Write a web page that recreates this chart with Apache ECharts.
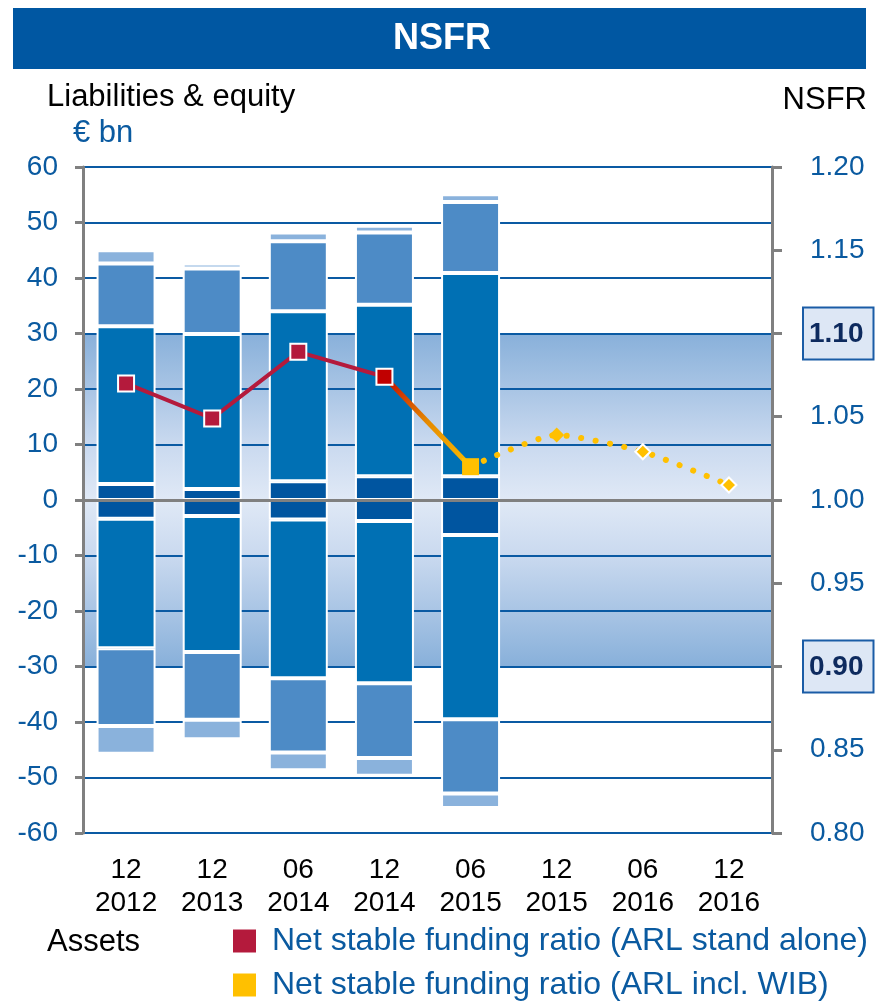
<!DOCTYPE html>
<html>
<head>
<meta charset="utf-8">
<script src="https://cdn.jsdelivr.net/npm/echarts@6/dist/echarts.min.js"></script>
<style>
  html, body { margin: 0; padding: 0; background: #fff; }
  #nsfr_chart { width: 879px; height: 1003px; }
</style>
</head>
<body>
<div id="nsfr_chart"></div>
<script>
// reporting dates
var periods = ['12\n2012', '12\n2013', '06\n2014', '12\n2014', '06\n2015', '12\n2015', '06\n2016', '12\n2016'];

// liabilities & equity (€ bn), bottom to top
var liabDark  = [2.9, 2.0, 3.4, 4.3, 4.3, null, null, null];
var liabMid   = [28.4, 27.9, 30.6, 30.9, 36.6, null, null, null];
var liabLight = [11.3, 11.8, 12.6, 13.0, 12.8, null, null, null];
var liabPale  = [2.4, 0.9, 1.6, 1.2, 1.4, null, null, null];

// assets (€ bn), top to bottom
var assetDark  = [-3.4, -2.9, -3.5, -3.8, -6.3, null, null, null];
var assetMid   = [-23.3, -24.5, -28.6, -29.2, -33.2, null, null, null];
var assetLight = [-14.0, -12.2, -13.4, -13.5, -13.4, null, null, null];
var assetPale  = [-5.0, -3.5, -3.2, -3.2, -2.6, null, null, null];

// net stable funding ratio
var nsfrStandAlone = [1.070, 1.049, 1.089, 1.074, null, null, null, null];
var nsfrBridge     = [null, null, null, 1.074, 1.020, null, null, null];
var nsfrInclWib    = [null, null, null, null, 1.020, null, null, null];
var nsfrForecast   = [null, null, null, null, 1.020, 1.039, 1.029, 1.009];

var FONT = '"Liberation Sans", Arial, sans-serif';
var BLUE_TXT = '#0a5aa0';

var nsfrChart = echarts.init(document.getElementById('nsfr_chart'));

function barSeries(name, data, color) {
    return {
        name: name,
        type: 'bar',
        stack: 'balance',
        barWidth: 59,
        z: 2,
        data: data,
        itemStyle: {
            color: color,
            borderColor: '#fff',
            borderWidth: 2
        },
        emphasis: { disabled: true }
    };
}

var option = {
    animation: false,
    textStyle: { fontFamily: FONT },
    grid: { left: 83, right: 107, top: 167, bottom: 170 },
    legend: {
        orient: 'vertical',
        left: 233,
        top: 925,
        padding: 0,
        itemWidth: 23,
        itemHeight: 23,
        itemGap: 12,
        icon: 'rect',
        itemStyle: { borderWidth: 0 },
        textStyle: { color: BLUE_TXT, fontSize: 32, fontFamily: FONT, padding: [0, 0, 0, 11] },
        data: ['Net stable funding ratio (ARL stand alone)', 'Net stable funding ratio (ARL incl. WIB)']
    },
    graphic: [
        { type: 'rect', left: 13, top: 8, shape: { width: 853, height: 61 }, style: { fill: '#0057a2' } },
        { type: 'text', x: 442, y: 39, style: { text: 'NSFR', fill: '#fff', font: 'bold 36px ' + FONT, align: 'center', verticalAlign: 'middle' } },
        { type: 'text', x: 47, y: 97, style: { text: 'Liabilities & equity', fill: '#000', font: '31px ' + FONT, verticalAlign: 'middle' } },
        { type: 'text', x: 73, y: 133, style: { text: '€ bn', fill: BLUE_TXT, font: '31px ' + FONT, verticalAlign: 'middle' } },
        { type: 'text', x: 867, y: 100, style: { text: 'NSFR', fill: '#000', font: '31px ' + FONT, align: 'right', verticalAlign: 'middle' } },
        { type: 'text', x: 47, y: 942, style: { text: 'Assets', fill: '#000', font: '31px ' + FONT, verticalAlign: 'middle' } }
    ],
    xAxis: [
        {
            type: 'category',
            data: periods,
            z: 4,
            axisLine: { onZero: true, lineStyle: { color: '#808080', width: 3 } },
            axisTick: { show: false },
            axisLabel: { show: false }
        },
        {
            type: 'category',
            data: periods,
            position: 'bottom',
            axisLine: { show: false, onZero: false },
            axisTick: { show: false },
            axisLabel: { color: '#000', fontSize: 28, lineHeight: 33, margin: 21, fontFamily: FONT }
        }
    ],
    yAxis: [
        {
            type: 'value',
            min: -60,
            max: 60,
            interval: 10,
            z: 1.5,
            axisLine: { show: true, lineStyle: { color: '#808080', width: 3 } },
            axisTick: { show: true, length: 8, lineStyle: { color: '#808080', width: 3 } },
            axisLabel: { color: BLUE_TXT, fontSize: 28, margin: 25, fontFamily: FONT },
            splitLine: { show: true, lineStyle: { color: '#0a5aa3', width: 2 } }
        },
        {
            type: 'value',
            min: 0.80,
            max: 1.20,
            interval: 0.05,
            position: 'right',
            z: 1.5,
            axisLine: { show: true, lineStyle: { color: '#808080', width: 3 } },
            axisTick: { show: true, length: 10, lineStyle: { color: '#808080', width: 3 } },
            splitLine: { show: false },
            axisLabel: {
                margin: 32,
                fontFamily: FONT,
                formatter: function (v) {
                    var s = v.toFixed(2);
                    return (s === '1.10' || s === '0.90') ? '{box|' + s + '}' : '{n|' + s + '}';
                },
                rich: {
                    n: { color: BLUE_TXT, fontSize: 28, fontFamily: FONT, padding: [0, 0, 0, 6] },
                    box: {
                        color: '#0d2a5e', fontSize: 28, fontWeight: 'bold', fontFamily: FONT,
                        backgroundColor: '#dde7f5', borderColor: '#1a5ca6', borderWidth: 2,
                        padding: [12, 9, 10, 5]
                    }
                }
            }
        }
    ],
    series: [
        {
            name: 'band',
            type: 'line',
            data: [],
            z: 1,
            silent: true,
            markArea: {
                silent: true,
                itemStyle: {
                    color: new echarts.graphic.LinearGradient(0, 0, 0, 1, [
                        { offset: 0, color: '#88b0da' },
                        { offset: 0.33, color: '#c9d9ef' },
                        { offset: 0.5, color: '#e0e9f6' },
                        { offset: 0.67, color: '#c9d9ef' },
                        { offset: 1, color: '#88b0da' }
                    ])
                },
                data: [[{ yAxis: 30 }, { yAxis: -30 }]]
            }
        },
        barSeries('Liabilities 1', liabDark, '#0055a0'),
        barSeries('Liabilities 2', liabMid, '#0070b4'),
        barSeries('Liabilities 3', liabLight, '#4d8bc6'),
        barSeries('Liabilities 4', liabPale, '#8ab2dc'),
        barSeries('Assets 1', assetDark, '#0055a0'),
        barSeries('Assets 2', assetMid, '#0070b4'),
        barSeries('Assets 3', assetLight, '#4d8bc6'),
        barSeries('Assets 4', assetPale, '#8ab2dc'),
        {
            name: 'bridge',
            type: 'line',
            yAxisIndex: 1,
            z: 5,
            data: nsfrBridge,
            showSymbol: false,
            lineStyle: {
                width: 5,
                color: new echarts.graphic.LinearGradient(0, 0, 1, 1, [
                    { offset: 0, color: '#c00000' },
                    { offset: 0.5, color: '#e58a00' },
                    { offset: 1, color: '#ffc000' }
                ])
            }
        },
        {
            name: 'Net stable funding ratio (ARL incl. WIB) forecast',
            type: 'line',
            yAxisIndex: 1,
            z: 5,
            smooth: 0.2,
            data: nsfrForecast.map(function (v, i) {
                if (v === null) return null;
                if (i === 4) return { value: v, symbolSize: 0 };
                if (i === 5) return { value: v, itemStyle: { borderWidth: 0 } };
                return v;
            }),
            symbol: 'diamond',
            symbolSize: 15,
            itemStyle: { color: '#ffc000', borderColor: '#fff', borderWidth: 2 },
            lineStyle: { color: '#ffc000', width: 6, type: [0.1, 14.5], cap: 'round' }
        },
        {
            name: 'Net stable funding ratio (ARL stand alone)',
            type: 'line',
            yAxisIndex: 1,
            z: 6,
            data: nsfrStandAlone.map(function (v, i) {
                if (i === 3) return { value: v, itemStyle: { color: '#c00000' } };
                return v;
            }),
            symbol: 'rect',
            symbolSize: 16,
            itemStyle: { color: '#b41a3c', borderColor: '#fff', borderWidth: 2 },
            lineStyle: { color: '#b41a3c', width: 4 }
        },
        {
            name: 'Net stable funding ratio (ARL incl. WIB)',
            type: 'line',
            yAxisIndex: 1,
            z: 6,
            data: nsfrInclWib,
            symbol: 'rect',
            symbolSize: 17,
            itemStyle: { color: '#ffc000', borderWidth: 0 },
            lineStyle: { color: '#ffc000', width: 4 }
        }
    ]
};

nsfrChart.setOption(option);

window.addEventListener('resize', function () {
    if (nsfrChart != null && nsfrChart != undefined) {
        nsfrChart.resize();
    }
});
</script>
</body>
</html>
